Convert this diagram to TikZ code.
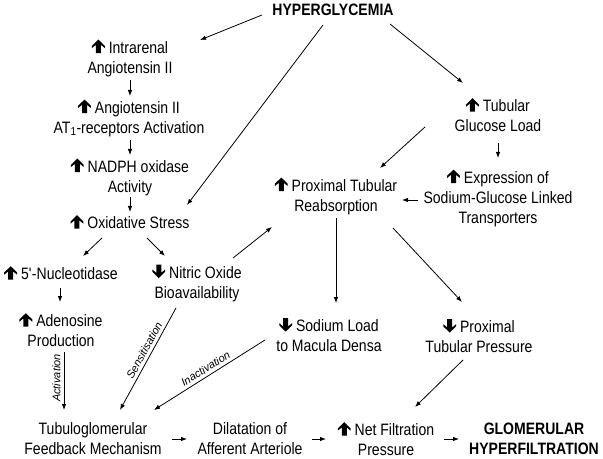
\documentclass[tikz,border=0pt]{standalone}
\usepackage{fontspec}
\setmainfont{Liberation Sans}[FakeStretch=0.85]
\newfontfamily\labfont{Liberation Sans}
\usetikzlibrary{arrows.meta}
% bold arrows put before the texts
\newcommand{\Incr}{\tikz[baseline=0pt,x=1bp,y=1bp]\fill (0,13.5)--(6.4,7.2)--(6.4,5)--(2.5,8.2)--(2.5,0)--(-2.5,0)--(-2.5,8.2)--(-6.4,5)--(-6.4,7.2)--cycle;\hspace{4bp}}
\newcommand{\Decr}{\tikz[baseline=0pt,x=1bp,y=1bp]\fill (0,0)--(6.4,6.3)--(6.4,8.5)--(2.5,5.3)--(2.5,13.5)--(-2.5,13.5)--(-2.5,5.3)--(-6.4,8.5)--(-6.4,6.3)--cycle;\hspace{4bp}}
\tikzset{
	txt/.style={align=center,inner sep=0pt,font=\fontsize{16.5bp}{20bp}\selectfont},
	bold/.style={txt,font=\fontsize{16.5bp}{20bp}\selectfont\bfseries},
	arr/.style={line width=0.8pt,-{Latex[length=6bp,width=4.5bp]}},
	lab/.style={font=\labfont\itshape\fontsize{11bp}{12bp}\selectfont,inner sep=3bp}
}
\begin{document}
\begin{tikzpicture}[x=1bp,y=-1bp]
	\useasboundingbox (0,0) rectangle (603,459) ;
	\node[bold] (Hyper) at (333,10) {HYPERGLYCEMIA} ;
	\node[txt] (Intrarenal) at (130,58) {\Incr Intrarenal\\Angiotensin II} ;
	\node[txt] (ATone) at (129,118) {\Incr Angiotensin II\\AT\textsubscript{1}-receptors Activation} ;
	\node[txt] (NADPH) at (130,177) {\Incr NADPH oxidase\\Activity} ;
	\node[txt] (Oxidative) at (130,222) {\Incr Oxidative Stress} ;
	\node[txt] (Nucleotidase) at (61,273) {\Incr 5\textquotesingle-Nucleotidase} ;
	\node[txt] (Adenosine) at (61,330) {\Incr Adenosine\\Production} ;
	\node[txt] (Nitric) at (197,283) {\Decr Nitric Oxide\\Bioavailability} ;
	\node[txt] (Tubulo) at (93,439) {Tubuloglomerular\\Feedback Mechanism} ;
	\node[txt] (Dilatation) at (250,439) {Dilatation of\\Afferent Arteriole} ;
	\node[txt] (NetFiltration) at (386,439) {\Incr Net Filtration\\Pressure} ;
	\node[bold] (Glomerular) at (534,439) {GLOMERULAR\\HYPERFILTRATION} ;
	\node[txt] (SodiumLoad) at (329,335) {\Decr Sodium Load\\to Macula Densa} ;
	\node[txt] (ProxPressure) at (479,336) {\Decr Proximal\\Tubular Pressure} ;
	\node[txt] (ProxReabs) at (336,196) {\Incr Proximal Tubular\\Reabsorption} ;
	\node[txt] (GlucoseLoad) at (498,115) {\Incr Tubular\\Glucose Load} ;
	\node[txt] (Expression) at (498,198) {\Incr Expression of\\Sodium-Glucose Linked\\Transporters} ;
	% from hyperglycemia
	\draw[arr] ([shift={(-71,5)}]Hyper.center) -- ([shift={(70,-18)}]Intrarenal.center) ;
	\draw[arr] ([shift={(-10,15)}]Hyper.center) -- ([shift={(57,-17)}]Oxidative.center) ;
	\draw[arr] ([shift={(57,14)}]Hyper.center) -- ([shift={(-35,-32)}]GlucoseLoad.center) ;
	% left column
	\draw[arr] ([shift={(0,22)}]Intrarenal.center) -- ([shift={(1,-22)}]ATone.center) ;
	\draw[arr] ([shift={(1,22)}]ATone.center) -- ([shift={(0,-22)}]NADPH.center) ;
	\draw[arr] ([shift={(0,20)}]NADPH.center) -- ([shift={(0,-10)}]Oxidative.center) ;
	\draw[arr] ([shift={(-28,16)}]Oxidative.center) -- ([shift={(22,-17)}]Nucleotidase.center) ;
	\draw[arr] ([shift={(17,16)}]Oxidative.center) -- ([shift={(-32,-27)}]Nitric.center) ;
	\draw[arr] ([shift={(36,-25)}]Nitric.center) -- ([shift={(-64,31)}]ProxReabs.center) ;
	\draw[arr] ([shift={(-1,15)}]Nucleotidase.center) -- ([shift={(-1,-28)}]Adenosine.center) ;
	% right column
	\draw[arr] ([shift={(-73,12)}]GlucoseLoad.center) -- ([shift={(44,-28)}]ProxReabs.center) ;
	\draw[arr] ([shift={(0,28)}]GlucoseLoad.center) -- ([shift={(0,-40)}]Expression.center) ;
	\draw[arr] ([shift={(-80,2)}]Expression.center) -- ([shift={(66,4)}]ProxReabs.center) ;
	\draw[arr] ([shift={(0,22)}]ProxReabs.center) -- ([shift={(7,-32)}]SodiumLoad.center) ;
	\draw[arr] ([shift={(57,32)}]ProxReabs.center) -- ([shift={(-17,-34)}]ProxPressure.center) ;
	\draw[arr] ([shift={(-16,24)}]ProxPressure.center) -- ([shift={(29,-32)}]NetFiltration.center) ;
	% into the feedback mechanism
	\draw[arr] ([shift={(3,22)}]Adenosine.center) -- node[lab,pos=0.45,rotate=90,anchor=south] (Activation) {Activation} ([shift={(-29,-29)}]Tubulo.center) ;
	\draw[arr] ([shift={(-21,25)}]Nitric.center) -- node[lab,pos=0.45,sloped,above] (Sensitisation) {Sensitisation} ([shift={(27,-29)}]Tubulo.center) ;
	\draw[arr] ([shift={(-64,5)}]SodiumLoad.center) -- node[lab,pos=0.5,sloped,above] (Inactivation) {Inactivation} ([shift={(61,-29)}]Tubulo.center) ;
	% bottom row
	\draw[arr] ([shift={(79,0)}]Tubulo.center) -- ([shift={(-63,0)}]Dilatation.center) ;
	\draw[arr] ([shift={(62,0)}]Dilatation.center) -- ([shift={(-60,0)}]NetFiltration.center) ;
	\draw[arr] ([shift={(58,0)}]NetFiltration.center) -- ([shift={(-75,0)}]Glomerular.center) ;
\end{tikzpicture}
\end{document}
